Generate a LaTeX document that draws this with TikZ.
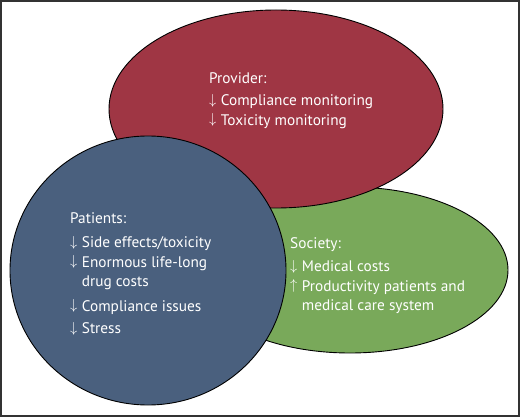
\documentclass[tikz,border=0pt]{standalone}
\usepackage{fontspec}
\setmainfont{PT Sans}
\usetikzlibrary{shapes.geometric}
\definecolor{provred}{RGB}{159,54,68}
\definecolor{patblue}{RGB}{74,96,126}
\definecolor{socgreen}{RGB}{121,169,90}
\newcommand{\dn}{\raisebox{0.15ex}{$\downarrow$}\hspace{4.5pt}}
\newcommand{\up}{\raisebox{0.15ex}{$\uparrow$}\hspace{4.5pt}}
\newcommand{\ind}{\hphantom{\dn}}
\tikzset{
  blob/.style={ellipse, draw=black, line width=0.9pt, inner sep=0pt},
  txt/.style={text=white, align=left, anchor=north west, inner sep=0pt,
    font=\fontsize{15.3}{19.5}\selectfont}
}
\begin{document}
\begin{tikzpicture}[x=1pt,y=-1pt]
\useasboundingbox (0,0) rectangle (520,417);
\node[blob, fill=socgreen, minimum width=316pt, minimum height=166pt] (soc) at (350,270) {};
\node[blob, fill=provred, minimum width=334pt, minimum height=198pt] (prov) at (276,109) {};
\node[blob, fill=patblue, minimum width=276pt, minimum height=269pt] (pat) at (148,270.5) {};
\node[txt] (provtxt) at (209,72) {Provider:\\[3pt]\dn Compliance monitoring\\\dn Toxicity monitoring};
\node[txt] (pattxt) at (70,212) {Patients:\\[5pt]\dn Side effects/toxicity\\\dn Enormous life-long\\\ind drug costs\\[5pt]\dn Compliance issues\\[3pt]\dn Stress};
\node[txt] (soctxt) at (290,237) {Society:\\[4pt]\dn Medical costs\\\up Productivity patients and\\\ind medical care system};
\draw[line width=2pt, draw=black!80] (1,1) rectangle (519,416);
\end{tikzpicture}
\end{document}
